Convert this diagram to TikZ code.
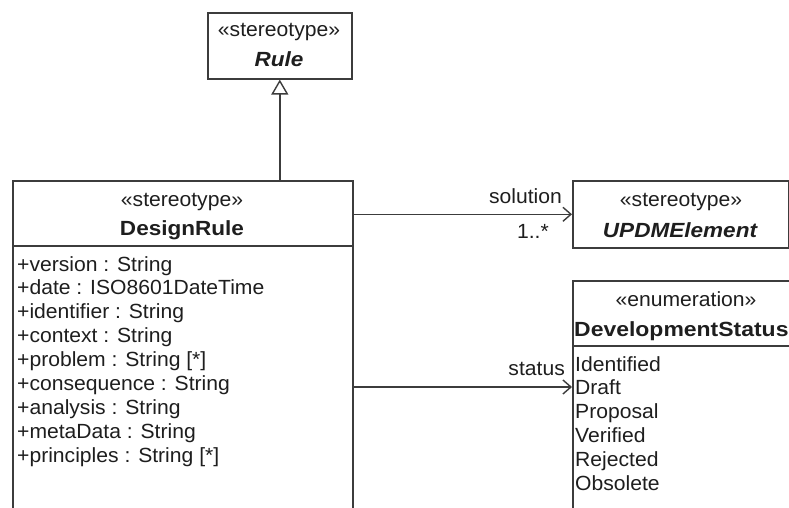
\documentclass[tikz,border=0pt]{standalone}
\usepackage{fontspec}
\setmainfont{Liberation Sans}[FakeStretch=1.03]
\newfontfamily\hdfont{Liberation Sans}[FakeStretch=1.10]
\newfontfamily\wdfont{Liberation Sans}[FakeStretch=1.12]
\usetikzlibrary{arrows.meta}
\definecolor{ln}{HTML}{3C3C3C}
\definecolor{tx}{HTML}{1E1E1E}
\tikzset{
  umlbox/.style={draw=ln, line width=1.6pt, fill=white, inner sep=0pt, anchor=north west},
  sepline/.style={draw=ln, line width=1.6pt},
  txt/.style={inner sep=0pt, anchor=base west, text=tx, font=\fontsize{20.5}{24}\selectfont},
  ctxt/.style={txt, anchor=base},
  rtxt/.style={txt, anchor=base east},
  hd/.style={inner sep=0pt, anchor=base, text=tx, font=\hdfont\bfseries\fontsize{20.5}{24}\selectfont},
  hdit/.style={hd, font=\hdfont\bfseries\itshape\fontsize{20.5}{24}\selectfont},
  hdwide/.style={hd, font=\wdfont\bfseries\fontsize{20.5}{24}\selectfont},
  assoc/.style={draw=ln, line width=1.6pt, -{Straight Barb[length=8pt,width=14pt,line width=1.4pt]}},
  gen/.style={draw=ln, line width=1.6pt, -{Triangle[open, length=15pt, width=17pt, fill=white, line width=1.4pt]}}
}
\begin{document}
\begin{tikzpicture}[x=1pt,y=-1pt]
\fill[white] (0,0) rectangle (789,508);
\clip (0,0) rectangle (789,508);
% boxes
\node[umlbox, minimum width=144pt, minimum height=66pt] (rule) at (207,12) {};
\node[umlbox, minimum width=340pt, minimum height=350pt] (dr) at (12,180) {};
\node[umlbox, minimum width=216pt, minimum height=67pt] (upd) at (572,180) {};
\node[umlbox, minimum width=260pt, minimum height=250pt] (ds) at (572,280) {};
% separators
\draw[sepline] (dr.west |- 0,246) -- (dr.east |- 0,246);
\draw[sepline] (ds.west |- 0,346) -- (ds.east |- 0,346);
% Rule
\node[ctxt] (rst) at (279,37) {«stereotype»};
\node[hdit] (rnm) at (279,67) {Rule};
% DesignRule
\node[ctxt] (dst) at (182,206) {«stereotype»};
\node[hd] (dnm) at (182,235) {DesignRule};
\foreach \t [count=\i from 0] in {{+version : String},{+date : ISO8601DateTime},{+identifier : String},{+context : String},{+problem : String [*]},{+consequence : String},{+analysis : String},{+metaData : String},{+principles : String [*]}}{
  \node[txt] (da\i) at (17,{271+23.95*\i}) {\t};
}
% UPDMElement
\node[ctxt] (ust) at (681,206) {«stereotype»};
\node[hdit] (unm) at (680,237) {UPDMElement};
% DevelopmentStatus
\node[ctxt] (est) at (686,306) {«enumeration»};
\node[hdwide, anchor=base west] (enm) at (574,336) {DevelopmentStatus};
\foreach \t [count=\i from 0] in {Identified,Draft,Proposal,Verified,Rejected,Obsolete}{
  \node[txt] (ev\i) at (575,{371+23.8*\i}) {\t};
}
% connectors
\draw[gen] (dr.north -| rule.south) -- (rule.south);
\draw[assoc] (dr.east |- upd.west) -- (upd.west);
\coordinate (sty) at (0,387);
\draw[assoc] (dr.east |- sty) -- (ds.west |- sty);
% labels
\node[rtxt] (lsol) at (562,203) {solution};
\node[rtxt] (lmul) at (549,238) {1..*};
\node[rtxt] (lsta) at (565,375) {status};
\end{tikzpicture}
\end{document}
